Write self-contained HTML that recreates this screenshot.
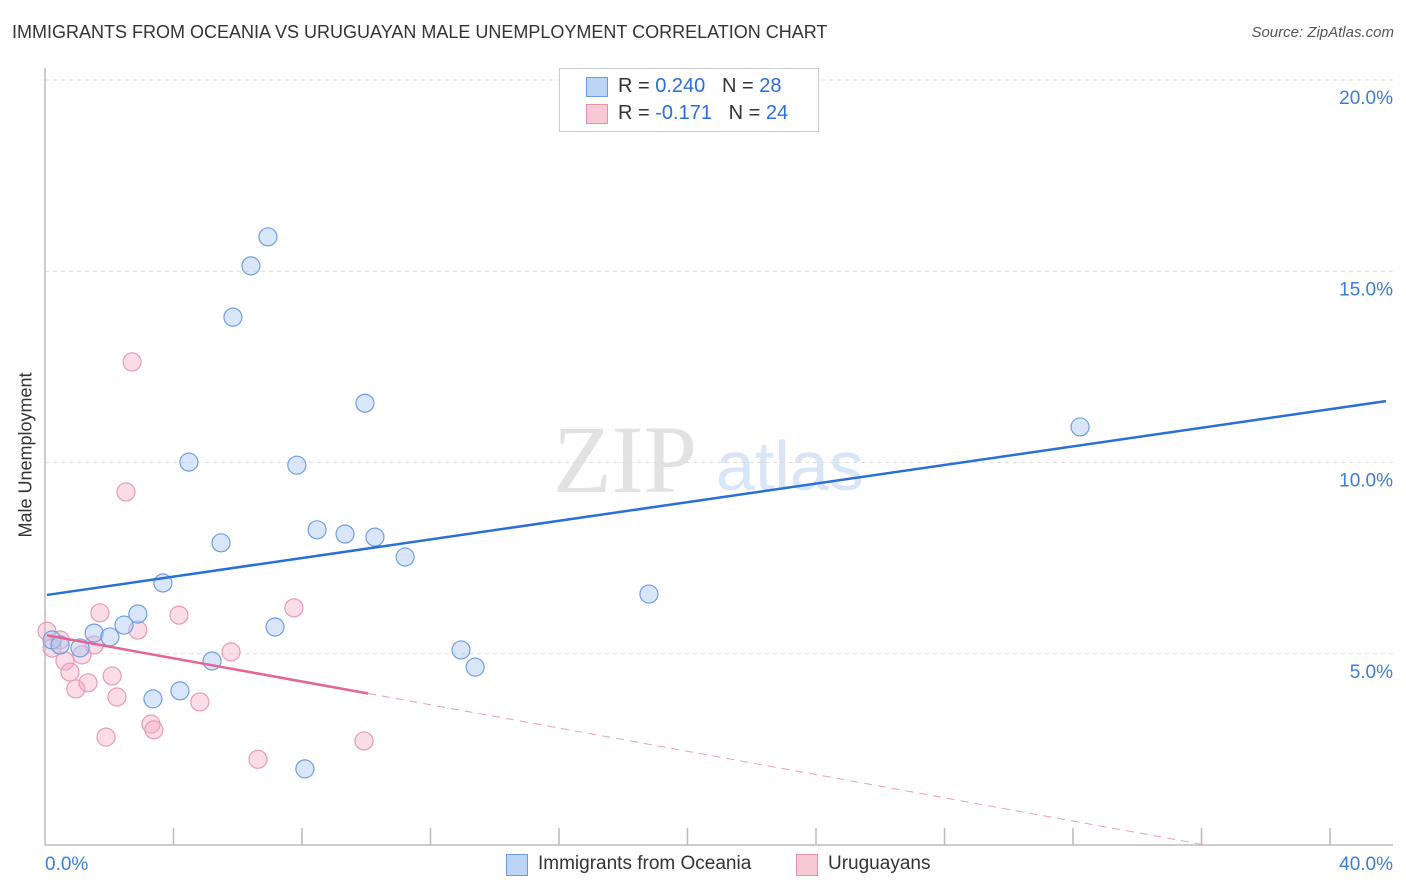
<!DOCTYPE html>
<html><head><meta charset="utf-8"><style>
body{margin:0;background:#fff;font-family:"Liberation Sans",sans-serif}
#wrap{position:relative;width:1406px;height:892px;overflow:hidden}
.t{position:absolute;white-space:nowrap}
</style></head><body>
<div id="wrap">
<div class="t" style="left:12px;top:22px;font-size:18px;color:#333">IMMIGRANTS FROM OCEANIA VS URUGUAYAN MALE UNEMPLOYMENT CORRELATION CHART</div>
<div class="t" style="right:12px;top:24px;font-size:15px;color:#555;font-style:italic">Source: ZipAtlas.com</div>
<svg id="plot" width="1406" height="892" style="position:absolute;left:0;top:0"></svg>
<div class="t" style="left:16px;top:455px;transform:translate(0,-50%) rotate(-90deg);transform-origin:center;font-size:18px;color:#333;width:20px;display:flex;justify-content:center"><span style="white-space:nowrap">Male Unemployment</span></div>
<div style="position:absolute;left:559px;top:68px;width:258px;height:62px;border:1px solid #ccc;background:#fff;font-size:20px">
 <div style="position:absolute;left:26px;top:8px;width:20px;height:18px;background:#bcd4f6;border:1px solid #6a9be0"></div>
 <div class="t" style="left:58px;top:6px;color:#333">R = <span style="color:#2a6fd6">0.240</span>&nbsp;&nbsp;&nbsp;N = <span style="color:#2a6fd6">28</span></div>
 <div style="position:absolute;left:26px;top:35px;width:20px;height:18px;background:#f9c8d6;border:1px solid #e890ab"></div>
 <div class="t" style="left:58px;top:33px;color:#333">R = <span style="color:#2a6fd6">-0.171</span>&nbsp;&nbsp;&nbsp;N = <span style="color:#2a6fd6">24</span></div>
</div>
<div style="position:absolute;left:506px;top:854px;width:20px;height:20px;background:#bcd4f6;border:1px solid #6a9be0"></div>
<div class="t" style="left:538px;top:853px;font-size:19px;color:#333">Immigrants from Oceania</div>
<div style="position:absolute;left:796px;top:854px;width:20px;height:20px;background:#f9c8d6;border:1px solid #e890ab"></div>
<div class="t" style="left:828px;top:853px;font-size:19px;color:#333">Uruguayans</div>
</div>
<script>
const blueX=[0.22,0.47,1.09,1.53,2.02,2.46,2.89,3.67,3.36,4.20,4.48,5.20,5.48,5.85,6.41,6.94,7.16,7.84,8.09,8.47,9.34,9.96,10.27,11.21,12.95,13.39,18.80,32.22];
const blueY=[5.36,5.23,5.15,5.54,5.44,5.75,6.04,6.85,3.82,4.03,10.01,4.81,7.90,13.80,15.14,15.90,5.70,9.93,1.99,8.24,8.13,11.55,8.05,7.53,5.10,4.65,6.56,10.93];
const pinkX=[0.06,0.22,0.47,0.62,0.78,0.96,1.15,1.34,1.53,1.71,1.90,2.09,2.24,2.52,2.71,2.89,3.30,3.39,4.17,4.82,5.79,6.63,7.75,9.93];
const pinkY=[5.59,5.15,5.36,4.81,4.52,4.08,4.97,4.24,5.23,6.07,2.82,4.42,3.87,9.23,12.63,5.62,3.16,3.01,6.01,3.74,5.05,2.24,6.20,2.72];
const blueTrend=[6.53,0.1216];
const pinkTrend=[5.49,-0.152];
const yTicks=[5,10,15,20];
const yTickLabels=["5.0%","10.0%","15.0%","20.0%"];
const xTickVals=[4,8,12,16,20,24,28,32,36,40];
const NS="http://www.w3.org/2000/svg";
const svg=document.getElementById('plot');
const sx=v=>45+v*32.125, sy=v=>845-v*38.25;
function mk(tag,a){const e=document.createElementNS(NS,tag);for(const k in a)e.setAttribute(k,a[k]);svg.appendChild(e);return e;}
let w=mk('text',{x:553,y:492,'font-size':96,'font-family':'Liberation Serif,serif',fill:'#e2e2e2'});w.textContent='ZIP';


w=mk('text',{x:716,y:490,'font-size':70,'font-family':'Liberation Sans,sans-serif',fill:'#d8e5f6'});w.textContent='atlas';


yTicks.forEach((t,i)=>{
 const g=mk('line',{x1:45,x2:1393,y1:sy(t),y2:sy(t),stroke:'#ddd','stroke-dasharray':'4,4'});
 
 
 const l=mk('text',{x:1393,y:sy(t)+24,'text-anchor':'end','font-size':19,fill:'#3b7dd8'});l.textContent=yTickLabels[i];
 
 
});
let a=mk('line',{x1:45,x2:45,y1:68,y2:845,stroke:'#bbb','stroke-width':1.5});


a=mk('line',{x1:45,x2:1393,y1:845,y2:845,stroke:'#bbb','stroke-width':1.5});


xTickVals.forEach(t=>{const e=mk('line',{x1:sx(t),x2:sx(t),y1:828,y2:845,stroke:'#bbb','stroke-width':1.5});
 
 });
let tl=mk('text',{x:45,y:870,'font-size':19,fill:'#3b7dd8'});tl.textContent='0.0%';


tl=mk('text',{x:1393,y:870,'font-size':19,fill:'#3b7dd8','text-anchor':'end'});tl.textContent='40.0%';


function dots(X,Y,fill,stroke,name){X.forEach((x,i)=>{const c=mk('circle',{cx:sx(x),cy:sy(Y[i]),r:9,fill:fill,stroke:stroke,'stroke-width':1.2});
 
 });}
dots(pinkX,pinkY,'rgba(246,170,195,0.4)','#e99ab3','point-uruguayans');
dots(blueX,blueY,'rgba(170,200,242,0.45)','#6f9fe0','point-oceania');
let ln=mk('line',{x1:sx(0.06),y1:sy(blueTrend[0]+blueTrend[1]*0.06),x2:sx(41.74),y2:sy(blueTrend[0]+blueTrend[1]*41.74),stroke:'#2a6fd6','stroke-width':2.5});


ln=mk('line',{x1:sx(0.06),y1:sy(pinkTrend[0]+pinkTrend[1]*0.06),x2:sx(10.06),y2:sy(pinkTrend[0]+pinkTrend[1]*10.06),stroke:'#e6648f','stroke-width':2.5});


const xe=-pinkTrend[0]/pinkTrend[1];
ln=mk('line',{x1:sx(10.06),y1:sy(pinkTrend[0]+pinkTrend[1]*10.06),x2:sx(xe),y2:sy(0),stroke:'#e6a0b5','stroke-width':1,'stroke-dasharray':'8,6'});


</script>
</body></html>
